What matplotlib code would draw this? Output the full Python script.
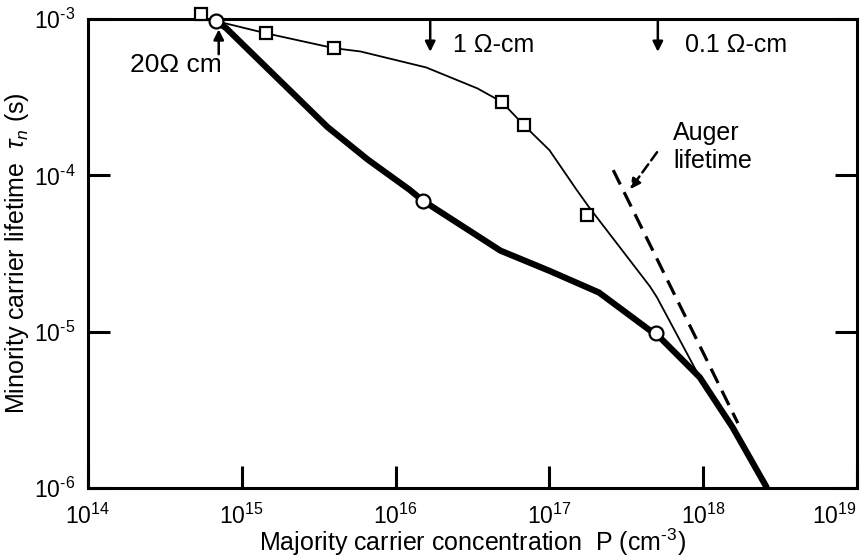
import matplotlib
matplotlib.use("Agg")
import matplotlib.pyplot as plt

plt.rcParams['font.family'] = ['Liberation Sans', 'DejaVu Sans']
plt.rcParams['mathtext.fontset'] = 'custom'
plt.rcParams['mathtext.rm'] = 'Liberation Sans'
plt.rcParams['mathtext.it'] = 'Liberation Sans:italic'

# ---- data ----
square_P = [5.4e14, 1.44e15, 4.0e15, 4.9e16, 6.8e16, 1.76e17]
square_tau = [1.07e-3, 8.1e-4, 6.5e-4, 2.95e-4, 2.1e-4, 5.6e-5]

circle_P = [6.8e14, 1.5e16, 4.9e17]
circle_tau = [9.7e-4, 6.9e-5, 9.8e-6]

thick_P = [6.8e14, 7.9e14, 3.6e15, 6.6e15, 1.23e16, 1.5e16, 4.8e16, 1.0e17,
           2.1e17, 4.5e17, 4.9e17, 9.5e17, 1.55e18, 2.6e18]
thick_tau = [9.7e-4, 8.75e-4, 2.04e-4, 1.26e-4, 8.1e-5, 6.9e-5, 3.3e-5, 2.45e-5,
             1.78e-5, 1.02e-5, 9.8e-6, 5.1e-6, 2.45e-6, 1.0e-6]

thin_P = [6.8e14, 1.44e15, 4.0e15, 5.9e15, 1.58e16, 3.4e16, 4.9e16, 6.8e16,
          1.0e17, 1.5e17, 1.8e17, 4.5e17, 5.0e17, 9.5e17]
thin_tau = [9.7e-4, 8.1e-4, 6.5e-4, 6.2e-4, 4.9e-4, 3.6e-4, 2.95e-4, 2.1e-4,
            1.45e-4, 8.1e-5, 6.3e-5, 1.95e-5, 1.66e-5, 5.1e-6]

auger_P = [2.6e17, 1.68e18]
auger_tau = [1.08e-4, 2.6e-6]

x_ticks = [1e14, 1e15, 1e16, 1e17, 1e18, 1e19]
x_ticklabels = ['$10^{14}$', '$10^{15}$', '$10^{16}$', '$10^{17}$', '$10^{18}$', '$10^{19}$']
y_ticks = [1e-6, 1e-5, 1e-4, 1e-3]
y_ticklabels = [r'$10^{\text{-}6}$', r'$10^{\text{-}5}$', r'$10^{\text{-}4}$', r'$10^{\text{-}3}$']

# ---- figure ----
W, H = 866, 560
fig = plt.figure(figsize=(W / 100, H / 100), dpi=100)
L, R, T, B = 88, 857, 19, 488
ax = fig.add_axes([L / W, 1 - B / H, (R - L) / W, (B - T) / H])
ax.set_xscale('log')
ax.set_yscale('log')
ax.set_xlim(1e14, 1e19)
ax.set_ylim(1e-6, 1e-3)

for s in ax.spines.values():
    s.set_linewidth(2.2)

ax.plot(thin_P, thin_tau, color='black', lw=1.3, zorder=3)
ax.plot(thick_P, thick_tau, color='black', lw=4.5, solid_capstyle='butt',
        solid_joinstyle='round', zorder=3)
ax.plot(auger_P, auger_tau, color='black', lw=2.3, dashes=(5, 2.7), zorder=3)

ax.plot(square_P, square_tau, ls='none', marker='s', ms=9, mfc='white', mec='black',
        mew=1.6, zorder=5, clip_on=False)
ax.plot(circle_P, circle_tau, ls='none', marker='o', ms=10, mfc='white', mec='black',
        mew=1.6, zorder=5, clip_on=False)

ax.set_xticks(x_ticks)
ax.set_xticklabels(x_ticklabels)
ax.set_yticks(y_ticks)
ax.set_yticklabels(y_ticklabels)
ax.minorticks_off()
ax.tick_params(axis='both', direction='in', length=16, width=2.2, labelsize=16.5, color='black')
ax.tick_params(axis='y', right=True, pad=9)
ax.tick_params(axis='x', top=False, pad=11)
xt = ax.get_xticklabels()
xt[-1].set_horizontalalignment('right')
xt[-1].set_x(1.0)

ax.set_xlabel('Majority carrier concentration  P (cm$^{\\text{-}3}$)', fontsize=18)
ax.xaxis.set_label_coords(0.5, -0.082)
ax.set_ylabel(r'Minority carrier lifetime  $\tau_n$ (s)', fontsize=18)
ax.yaxis.set_label_coords(-0.074, 0.5)

# ---- annotations ----
arr = dict(arrowstyle='-|>', lw=1.8, color='black', mutation_scale=15, shrinkA=0, shrinkB=0)
ax.text(0.114, 0.902, '20Ω cm', transform=ax.transAxes, fontsize=19, ha='center', va='center')
ax.annotate('', xy=(0.170, 0.978), xytext=(0.170, 0.925), xycoords='axes fraction',
            textcoords='axes fraction', arrowprops=arr)

ax.text(0.475, 0.945, '1 Ω-cm', transform=ax.transAxes, fontsize=18, ha='left', va='center')
ax.annotate('', xy=(0.445, 0.930), xytext=(0.445, 0.998), xycoords='axes fraction',
            textcoords='axes fraction', arrowprops=arr)

ax.text(0.776, 0.945, '0.1 Ω-cm', transform=ax.transAxes, fontsize=18, ha='left', va='center')
ax.annotate('', xy=(0.741, 0.930), xytext=(0.741, 0.998), xycoords='axes fraction',
            textcoords='axes fraction', arrowprops=arr)

ax.text(0.761, 0.727, 'Auger\nlifetime', transform=ax.transAxes, fontsize=18, ha='left',
        va='center', linespacing=1.2)
ax.annotate('', xy=(0.705, 0.637), xytext=(0.740, 0.716), xycoords='axes fraction',
            textcoords='axes fraction',
            arrowprops=dict(arrowstyle='-|>', lw=1.8, color='black', mutation_scale=15,
                            linestyle=(0, (4, 2)), shrinkA=0, shrinkB=0))

fig.savefig('out.png', dpi=100)
